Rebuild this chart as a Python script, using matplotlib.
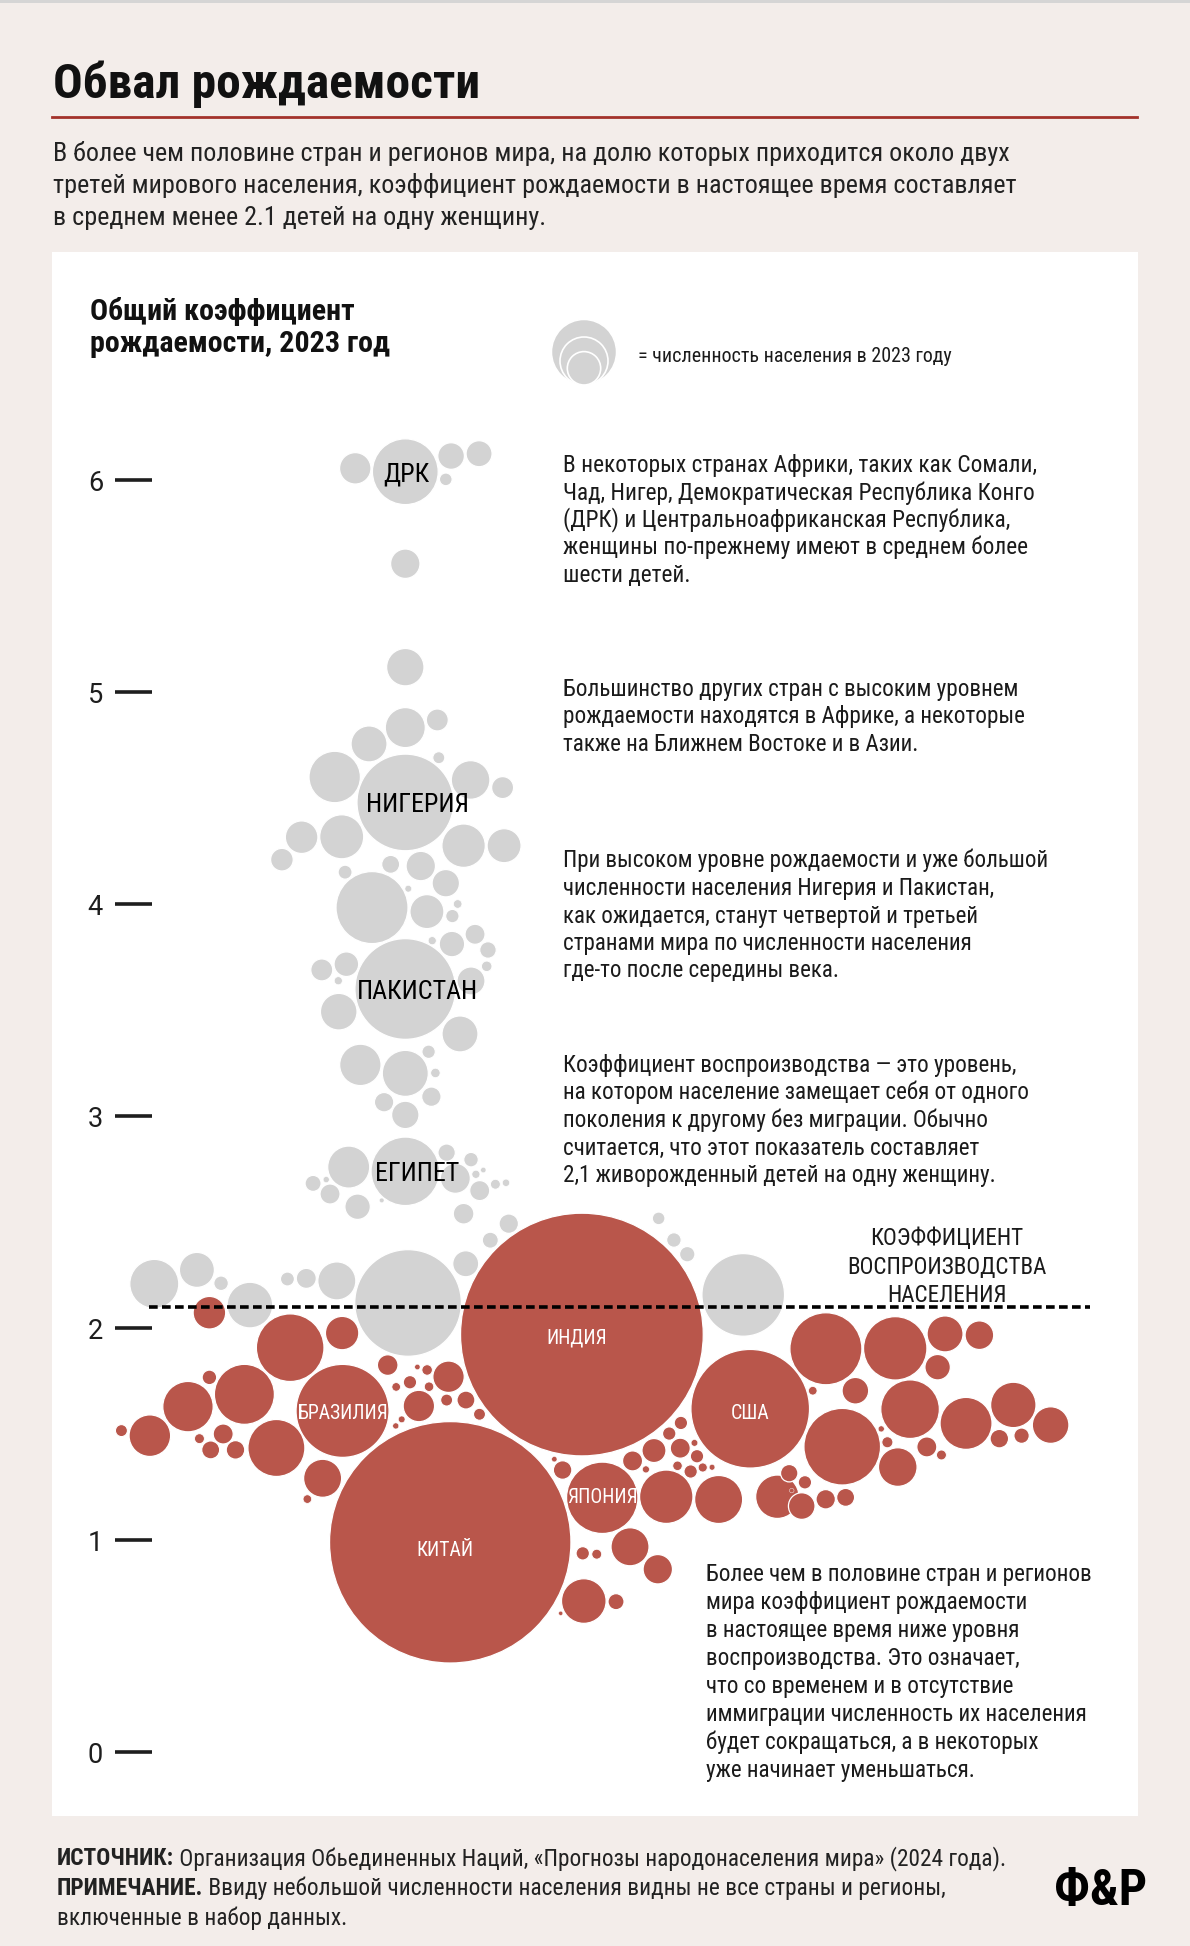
import matplotlib
matplotlib.use("Agg")
import matplotlib.pyplot as plt
from matplotlib.patches import Circle
from matplotlib import font_manager as fm
import numpy as np

# ------------------------------------------------------------------ data
named_country = ["ДРК", "НИГЕРИЯ", "ПАКИСТАН", "ЕГИПЕТ", "ИНДИЯ",
                 "БРАЗИЛИЯ", "США", "ЯПОНИЯ", "КИТАЙ"]
named_fertility = [6.04, 4.48, 3.60, 2.74, 1.97, 1.61, 1.62, 1.20, 0.99]
named_population = [105.6, 227.9, 247.5, 114.5, 1438.1, 211.1, 343.5, 124.4, 1422.6]
named_offset = [0.0, 0.0, 0.0, 0.0, 0.833, -0.296, 1.627, 0.929, 0.212]

other_offset = [
    -0.236, 0.216, 0.348, 0.191, 0.000, 0.000, 0.000, 0.151, -0.171, -0.333,
    0.158, 0.308, 0.459, -0.489, -0.300, -0.582, 0.275, 0.466, -0.069, 0.073,
    -0.284, 0.191, 0.014, -0.157, 0.102, 0.247, 0.222, 0.127, 0.220, 0.329,
    0.390, 0.384, 0.310, -0.394, -0.278, -0.316, -0.314, 0.258, -0.212, 0.000,
    0.110, 0.142, 0.123, -0.100, 0.000, -0.267, -0.435, -0.373, -0.355, -0.225,
    -0.111, 0.195, 0.236, 0.310, 0.333, 0.368, 0.351, 0.425, 0.475, 0.275,
    0.488, 0.401, 0.285, 0.013, -0.323, -0.467, -0.556, -1.184, -0.983, -0.869,
    -0.733, 1.195, 1.267, 1.330, 1.594,
    -0.924, -0.543, -0.298, -0.759, -1.025, -0.924, -1.205, -1.339, -0.608, -0.859,
    -0.918, -0.801, -0.971, -0.083, 0.022, -0.043, 0.057, 0.103, 0.112, 0.204,
    0.064, 0.195, 0.286, 0.350, -0.017, -0.045, -0.390, -0.462, 0.742, 0.703,
    1.072, 1.173, 1.245, 1.300, 1.297, 1.364, 1.376, 1.346, 1.284, 1.403,
    1.447, 1.135, 1.231, 1.478, 1.060, 1.191, 0.837, 0.903, 0.842, 0.994,
    0.733, 1.984, 2.311, 2.546, 2.708, 2.511, 2.123, 1.922, 2.381, 2.061,
    2.645, 2.868, 3.044, 2.802, 2.907, 2.460, 2.529, 2.274, 2.245, 2.323,
    1.755, 1.870, 1.983, 2.077, 1.811, 1.885, 1.823,
]
other_fertility = [
    6.056, 6.114, 6.125, 6.004, 5.606, 5.118, 4.833, 4.869, 4.756, 4.600,
    4.691, 4.586, 4.550, 4.316, 4.318, 4.210, 4.276, 4.276, 4.188, 4.180,
    4.151, 4.099, 4.073, 3.984, 3.965, 4.001, 3.944, 3.828, 3.812, 3.858,
    3.784, 3.707, 3.638, 3.690, 3.717, 3.639, 3.493, 3.388, 3.242, 3.202,
    3.304, 3.204, 3.092, 3.066, 3.006, 2.760, 2.683, 2.701, 2.633, 2.573,
    2.603, 2.828, 2.707, 2.795, 2.726, 2.746, 2.649, 2.679, 2.686, 2.540,
    2.493, 2.415, 2.304, 2.119, 2.223, 2.235, 2.232, 2.209, 2.275, 2.212,
    2.109, 2.518, 2.416, 2.349, 2.157,
    2.073, 1.908, 1.977, 1.688, 1.630, 1.768, 1.493, 1.517, 1.435, 1.501,
    1.426, 1.426, 1.479, 1.826, 1.745, 1.723, 1.817, 1.803, 1.724, 1.771,
    1.633, 1.661, 1.661, 1.594, 1.570, 1.539, 1.292, 1.194, 1.331, 1.382,
    1.374, 1.423, 1.503, 1.553, 1.434, 1.459, 1.396, 1.324, 1.351, 1.343,
    1.344, 1.334, 1.205, 1.192, 0.969, 0.863, 0.938, 0.934, 0.713, 0.710,
    0.655, 1.903, 1.905, 1.973, 1.967, 1.816, 1.705, 1.705, 1.618, 1.441,
    1.551, 1.638, 1.543, 1.479, 1.493, 1.440, 1.402, 1.462, 1.525, 1.345,
    1.205, 1.161, 1.193, 1.202, 1.316, 1.273, 1.234,
]
other_population = [
    24.1, 17.3, 16.5, 3.9, 21.1, 34.1, 39.1, 11.8, 31.6, 64.5,
    3.5, 36.4, 11.8, 25.9, 47.3, 12.5, 46.0, 28.2, 7.9, 21.1,
    4.8, 18.3, 1.1, 126.6, 28.2, 1.8, 4.4, 1.6, 15.8, 9.8,
    6.7, 2.7, 19.1, 11.8, 14.8, 1.6, 32.7, 31.6, 41.8, 51.7,
    4.4, 2.2, 9.2, 9.2, 18.3, 43.1, 6.3, 0.9, 9.8, 15.8,
    0.5, 7.4, 22.0, 5.2, 1.6, 0.7, 9.8, 2.4, 1.3, 10.4,
    9.2, 6.3, 16.5, 277.5, 35.3, 9.8, 4.8, 58.6, 29.9, 5.2,
    50.8, 3.9, 5.2, 5.8, 166.6,
    25.9, 111.6, 27.2, 87.9, 62.0, 5.2, 42.2, 3.5, 79.3, 9.8,
    7.9, 8.4, 2.4, 10.4, 4.4, 1.8, 0.7, 2.7, 2.2, 24.1,
    24.1, 3.5, 7.9, 3.5, 1.1, 0.9, 35.3, 1.8, 8.4, 0.7,
    9.8, 14.1, 4.4, 4.4, 9.8, 1.1, 4.4, 4.4, 2.2, 2.0,
    0.8, 1.2, 69.6, 56.3, 35.3, 21.1, 4.4, 2.4, 48.6, 6.3,
    0.4, 126.6, 98.1, 31.6, 20.0, 15.8, 17.3, 1.8, 83.8, 143.3,
    66.0, 50.3, 32.7, 8.4, 5.8, 9.8, 2.4, 3.0, 0.9, 36.4,
    46.0, 17.3, 9.2, 7.9, 7.4, 4.4, 0.5,
]
replacement_rate = 2.1
y_ticks = [0, 1, 2, 3, 4, 5, 6]

title = "Обвал рождаемости"
subtitle = ["В более чем половине стран и регионов мира, на долю которых приходится около двух",
            "третей мирового населения, коэффициент рождаемости в настоящее время составляет",
            "в среднем менее 2.1 детей на одну женщину."]
panel_title = ["Общий коэффициент", "рождаемости, 2023 год"]
legend_text = "= численность населения в 2023 году"
note1 = ["В некоторых странах Африки, таких как Сомали,",
         "Чад, Нигер, Демократическая Республика Конго",
         "(ДРК) и Центральноафриканская Республика,",
         "женщины по-прежнему имеют в среднем более",
         "шести детей."]
note2 = ["Большинство других стран с высоким уровнем",
         "рождаемости находятся в Африке, а некоторые",
         "также на Ближнем Востоке и в Азии."]
note3 = ["При высоком уровне рождаемости и уже большой",
         "численности населения Нигерия и Пакистан,",
         "как ожидается, станут четвертой и третьей",
         "странами мира по численности населения",
         "где-то после середины века."]
note4 = ["Коэффициент воспроизводства — это уровень,",
         "на котором население замещает себя от одного",
         "поколения к другому без миграции. Обычно",
         "считается, что этот показатель составляет",
         "2,1 живорожденный детей на одну женщину."]
ref_label = ["КОЭФФИЦИЕНТ", "ВОСПРОИЗВОДСТВА", "НАСЕЛЕНИЯ"]
note5 = ["Более чем в половине стран и регионов",
         "мира коэффициент рождаемости",
         "в настоящее время ниже уровня",
         "воспроизводства. Это означает,",
         "что со временем и в отсутствие",
         "иммиграции численность их населения",
         "будет сокращаться, а в некоторых",
         "уже начинает уменьшаться."]
footer = [("ИСТОЧНИК:", " Организация Обьединенных Наций, «Прогнозы народонаселения мира» (2024 года)."),
          ("ПРИМЕЧАНИЕ.", " Ввиду небольшой численности населения видны не все страны и регионы,"),
          ("", "включенные в набор данных.")]
logo = "Ф&P"

# ------------------------------------------------------------------ style
W, H, DPI = 1190, 1946, 100
BG = "#f3edea"
GRAY = "#d3d3d3"
RED = "#b9564b"
TXT = "#1b1b1b"
PXU = 212.0            # pixels per fertility unit
Y0 = 1752.2            # pixel row of fertility 0
XC = 405.3             # pixel column of swarm offset 0
BUBBLE_K = 3.2         # radius px per sqrt(million)


def choose_font():
    entries = fm.fontManager.ttflist
    names = {e.name for e in entries}
    for n in ["Roboto Condensed", "PT Sans Narrow", "Liberation Sans Narrow",
              "DejaVu Sans Condensed", "Noto Sans Condensed", "Open Sans Condensed"]:
        if n in names:
            return n, "normal"
    for fam in ["Noto Sans", "DejaVu Sans", "Open Sans", "Roboto"]:
        if any(e.name == fam and str(e.stretch) == "condensed" for e in entries):
            return fam, "condensed"
    return "Roboto", "normal"


FAM, STRETCH = choose_font()
plt.rcParams["font.family"] = [FAM, "DejaVu Sans"]
plt.rcParams["font.stretch"] = STRETCH

fig = plt.figure(figsize=(W / DPI, H / DPI), dpi=DPI, facecolor=BG)
ren = fig.canvas.get_renderer()


def fx(px):
    return px / W


def fy(py):
    return 1 - py / H


def fit(texts, target, base):
    w = max(t.get_window_extent(ren).width for t in texts)
    fs = base * target / w
    for t in texts:
        t.set_fontsize(fs)
    return fs


def block(lines, x, y0, step, target, weight="normal", color=TXT, ha="left"):
    ts = [fig.text(fx(x), fy(y0 + i * step), s, fontsize=16, fontweight=weight,
                   color=color, ha=ha, va="baseline") for i, s in enumerate(lines)]
    fit(ts, target, 16)
    return ts


# top gray strip
fig.add_artist(plt.Rectangle((0, fy(3)), 1, 3 / H, transform=fig.transFigure,
                             facecolor="#d5d5d5", edgecolor="none"))

# title + rule
block([title], 53, 98.3, 0, 428, weight="bold", color="#111111")
fig.add_artist(plt.Line2D([fx(52), fx(1137)], [fy(117), fy(117)],
                          transform=fig.transFigure, color="#a3322b", lw=2.0))
block(subtitle, 53, 160.7, 32.2, 968, color="#222222")

# ------------------------------------------------------------------ axes
px0, px1, py0, py1 = 52, 1138, 252, 1816
ax = fig.add_axes([fx(px0), fy(py1), (px1 - px0) / W, (py1 - py0) / H])
ax.set_facecolor("white")
ax.set_xlim((px0 - XC) / PXU, (px1 - XC) / PXU)
ax.set_ylim((Y0 - py1) / PXU, (Y0 - py0) / PXU)
for s in ax.spines.values():
    s.set_visible(False)
ax.spines["left"].set_position(("data", (115 - XC) / PXU))
ax.set_xticks([])
ax.set_yticks(y_ticks)
ax.set_yticklabels([str(v) for v in y_ticks])
ax.tick_params(axis="y", direction="in", length=37 * 72 / DPI, width=2.6,
               color="#1e1e1e", pad=12 * 72 / DPI, labelsize=19.5, labelcolor="#1e1e1e")
for lbl in ax.get_yticklabels():
    lbl.set_family(["Roboto", "DejaVu Sans"])
    lbl.set_stretch("normal")


def radius(pop):
    return BUBBLE_K * np.sqrt(pop) / PXU


all_x = list(other_offset) + list(named_offset)
all_y = list(other_fertility) + list(named_fertility)
all_p = list(other_population) + list(named_population)
for x, y, p in zip(all_x, all_y, all_p):
    col = RED if y < replacement_rate else GRAY
    r = radius(p)
    lw = min(0.9, 0.18 * r * PXU * 72 / DPI)
    ax.add_patch(Circle((x, y), r, facecolor=col, edgecolor="white",
                        lw=lw, zorder=2))

ax.axhline(replacement_rate, xmin=(149 - px0) / (px1 - px0), xmax=(1090 - px0) / (px1 - px0),
           color="black", lw=2.6, dashes=(2.4, 1.2), zorder=4)

# bubble labels
label_shift_px = {"ДРК": (1, 0), "НИГЕРИЯ": (12, 0), "ПАКИСТАН": (12, 1), "ЕГИПЕТ": (12, 0),
                  "ИНДИЯ": (-5, 2), "США": (0, 3), "КИТАЙ": (-5, 7), "ЯПОНИЯ": (0, -2),
                  "БРАЗИЛИЯ": (0, 1)}
gray_t, red_t = [], []
for name, x, y in zip(named_country, named_offset, named_fertility):
    sx, sy = label_shift_px[name]
    if y >= replacement_rate:
        t = ax.text(x + sx / PXU, y - sy / PXU, name, ha="center", va="baseline",
                    color="black", fontsize=16, zorder=5)
        gray_t.append(t)
    else:
        t = ax.text(x + sx / PXU, y - sy / PXU, name, ha="center", va="baseline",
                    color="white", fontsize=16, zorder=5)
        red_t.append(t)
fsg = fit([t for t in gray_t if t.get_text() == "ПАКИСТАН"], 121, 16)
for t in gray_t:
    t.set_fontsize(fsg)
    xx, yy = t.get_position()
    t.set_position((xx, yy - 0.36 * fsg * DPI / 72 / PXU))
fsr = fit([t for t in red_t if t.get_text() == "БРАЗИЛИЯ"], 91, 16)
for t in red_t:
    t.set_fontsize(fsr)
    xx, yy = t.get_position()
    t.set_position((xx, yy - 0.36 * fsr * DPI / 72 / PXU))

# legend icon (nested circles)
for r_px, cy in [(32.6, 352), (24, 361), (16.7, 368.3)]:
    ax.add_patch(Circle(((584 - XC) / PXU, (Y0 - cy) / PXU), r_px / PXU,
                        facecolor=GRAY, edgecolor="white", lw=1.2, zorder=3))

# ------------------------------------------------------------------ texts in panel
block(panel_title, 90, 320, 31.7, 300, weight="bold", color="#111111")
block([legend_text], 638, 361.7, 0, 313)
block(note1, 563, 472.3, 27.3, 472)
block(note2, 563, 696, 27.5, 463)
block(note3, 563, 867.5, 27.5, 487)
block(note4, 563, 1072, 27.5, 467)
block(ref_label, 947, 1245, 28.6, 200, ha="center")
block(note5, 706, 1581, 28.0, 387)

# ------------------------------------------------------------------ footer
def footer_line(bold, reg, x, y, fs):
    tb = fig.text(fx(x), fy(y), bold, fontsize=fs, fontweight="bold", color="#222222",
                  va="baseline")
    wb = tb.get_window_extent(ren).width if bold else 0
    tr = fig.text(fx(x + wb), fy(y), reg if bold else reg.lstrip(), fontsize=fs,
                  color="#222222", va="baseline")
    return tb, tr


fs = 14
tb, tr = footer_line(*footer[0], 57, 1865, fs)
total = tr.get_window_extent(ren).x1 - tb.get_window_extent(ren).x0
fs = fs * 948 / total
tb.remove()
tr.remove()
for (b, r), yb in zip(footer, [1865, 1895, 1924.5]):
    footer_line(b, r, 57, yb, fs)

lg = fig.text(fx(1101), fy(1891), logo, fontsize=20, fontweight="black",
              color="black", ha="center", va="center")
fit([lg], 93, 20)

fig.savefig("out.png", dpi=DPI, facecolor=BG)
